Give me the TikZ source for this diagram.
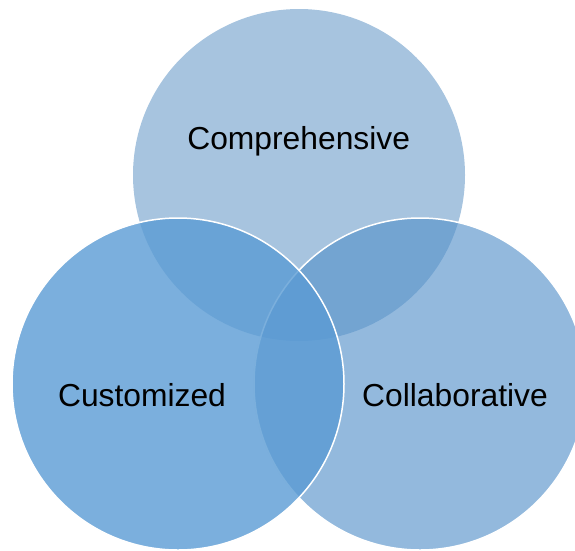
\documentclass[tikz,border=0pt]{standalone}
\usepackage{fontspec}
\setmainfont{Liberation Sans}
\definecolor{topfill}{RGB}{167,196,223}
\definecolor{rightfill}{RGB}{86,146,202}
\definecolor{leftfill}{RGB}{90,155,212}
\begin{document}
\begin{tikzpicture}[x=1pt,y=-1pt,
  venn/.style={circle, minimum size=332pt, inner sep=0pt, outer sep=0pt},
  label/.style={anchor=base, inner sep=0pt, font=\fontsize{31.8}{38}\selectfont, text=black}]
\useasboundingbox (0,0) rectangle (575,550);
\node[venn, fill=topfill] (ctop) at (299,175) {};
\node[venn, fill=rightfill, fill opacity=0.64, draw=white, line width=1.5pt] (cright) at (420,384) {};
\node[venn, fill=leftfill, fill opacity=0.8, draw=white, line width=1.5pt] (cleft) at (178,384) {};
\node[label] (tcomp) at (298.7,149.5) {Comprehensive};
\node[label] (tcust) at (142,406) {Customized};
\node[label] (tcoll) at (455,406) {Collaborative};
\end{tikzpicture}
\end{document}
